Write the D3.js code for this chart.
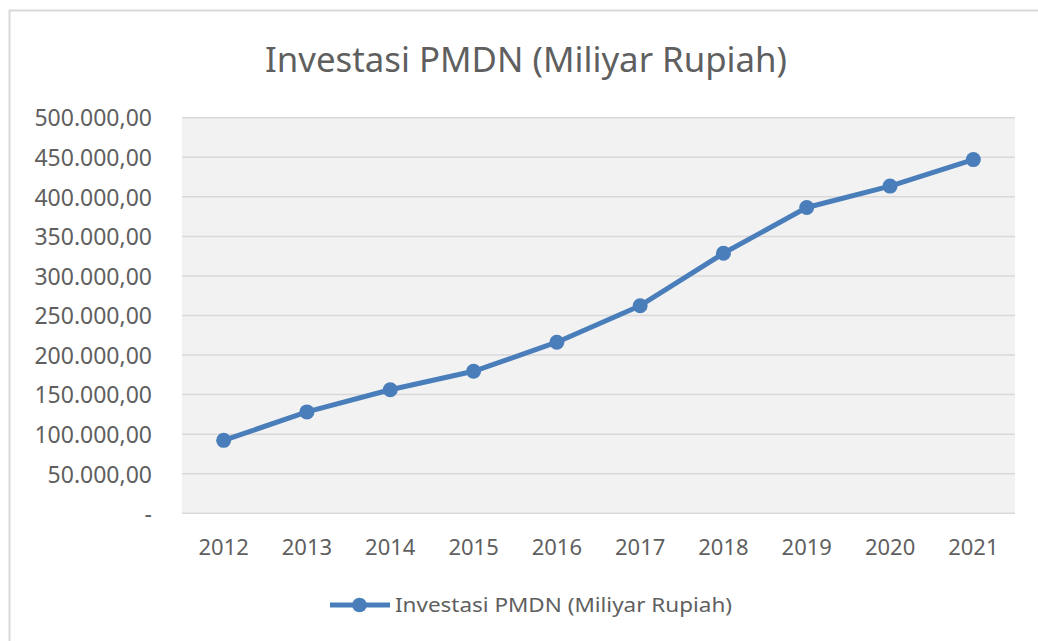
<!DOCTYPE html>
<html><head><meta charset="utf-8">
<script src="https://cdn.jsdelivr.net/npm/d3@7"></script>
<style>html,body{margin:0;padding:0;background:#fff;}svg{display:block;}</style>
</head><body>
<svg id="chart" width="1038" height="641"></svg>
<script>
const title = "Investasi PMDN (Miliyar Rupiah)";
const seriesName = "Investasi PMDN (Miliyar Rupiah)";
const years = ["2012","2013","2014","2015","2016","2017","2018","2019","2020","2021"];
const values = [92182.0, 128150.0, 156126.3, 179465.9, 216230.8, 262350.5, 328604.9, 386498.4, 413535.5, 447063.6];
const yTicks = [0, 50000, 100000, 150000, 200000, 250000, 300000, 350000, 400000, 450000, 500000];

const svg = d3.select("#chart");
const font = "'Noto Sans', 'Open Sans', sans-serif";
const textColor = "#5f5f5f";
const lineColor = "#4A7EBB";

// outer chart border
svg.append("rect").attr("x", 9.5).attr("y", 10.5).attr("width", 1040).attr("height", 640)
  .attr("fill", "#fff").attr("stroke", "#D9D9D9").attr("stroke-width", 2);

const plot = {left: 182, right: 1015, top: 117.7, bottom: 513.3};

const x = d3.scaleBand().domain(years).range([plot.left, plot.right]);
const y = d3.scaleLinear().domain([0, 500000]).range([plot.bottom, plot.top]);

svg.append("rect").attr("x", plot.left).attr("y", plot.top)
  .attr("width", plot.right - plot.left).attr("height", plot.bottom - plot.top)
  .attr("fill", "#F2F2F2");

// title
svg.append("text").attr("x", 526).attr("y", 72).attr("text-anchor", "middle")
  .attr("font-family", font).attr("font-size", 34).attr("fill", textColor)
  .attr("textLength", 522).attr("lengthAdjust", "spacingAndGlyphs")
  .text(title);

// gridlines
svg.append("g").selectAll("line").data(yTicks).join("line")
  .attr("x1", plot.left).attr("x2", plot.right)
  .attr("y1", d => y(d)).attr("y2", d => y(d))
  .attr("stroke", "#D9D9D9").attr("stroke-width", 1.5);

const fmt = v => v === 0 ? "-" : d3.format(",.2f")(v).replace(/,/g, "#").replace(/\./g, ",").replace(/#/g, ".");

// y axis
const yAxis = d3.axisLeft(y).tickValues(yTicks).tickFormat(fmt).tickSize(0).tickPadding(0);
const gy = svg.append("g").attr("transform", `translate(152,0)`).call(yAxis);
gy.select(".domain").remove();
gy.selectAll("text").attr("font-family", font).attr("font-size", 23).attr("fill", textColor)
  .attr("dy", "0.36em").attr("x", 0);

// x axis
const xAxis = d3.axisBottom(x).tickSize(0).tickPadding(0);
const gx = svg.append("g").attr("transform", `translate(0,${plot.bottom})`).call(xAxis);
gx.select(".domain").remove();
gx.selectAll("text").attr("font-family", font).attr("font-size", 22).attr("fill", textColor)
  .attr("y", 34).attr("dy", "0.36em");

// line
const cx = d => x(d) + x.bandwidth() / 2;
const line = d3.line().x((d, i) => cx(years[i])).y(d => y(d));
svg.append("path").datum(values).attr("d", line).attr("fill", "none")
  .attr("stroke", lineColor).attr("stroke-width", 5).attr("stroke-linejoin", "round");
svg.append("g").selectAll("circle").data(values).join("circle")
  .attr("cx", (d, i) => cx(years[i])).attr("cy", d => y(d)).attr("r", 7.5)
  .attr("fill", lineColor);

// legend
const lg = svg.append("g");
lg.append("line").attr("x1", 330).attr("x2", 390).attr("y1", 605).attr("y2", 605)
  .attr("stroke", lineColor).attr("stroke-width", 5);
lg.append("circle").attr("cx", 359.5).attr("cy", 605).attr("r", 7.3).attr("fill", lineColor);
lg.append("text").attr("x", 395).attr("y", 612).attr("font-family", font).attr("font-size", 20.5)
  .attr("fill", textColor).attr("textLength", 337).attr("lengthAdjust", "spacingAndGlyphs")
  .text(seriesName);
</script>
</body></html>
